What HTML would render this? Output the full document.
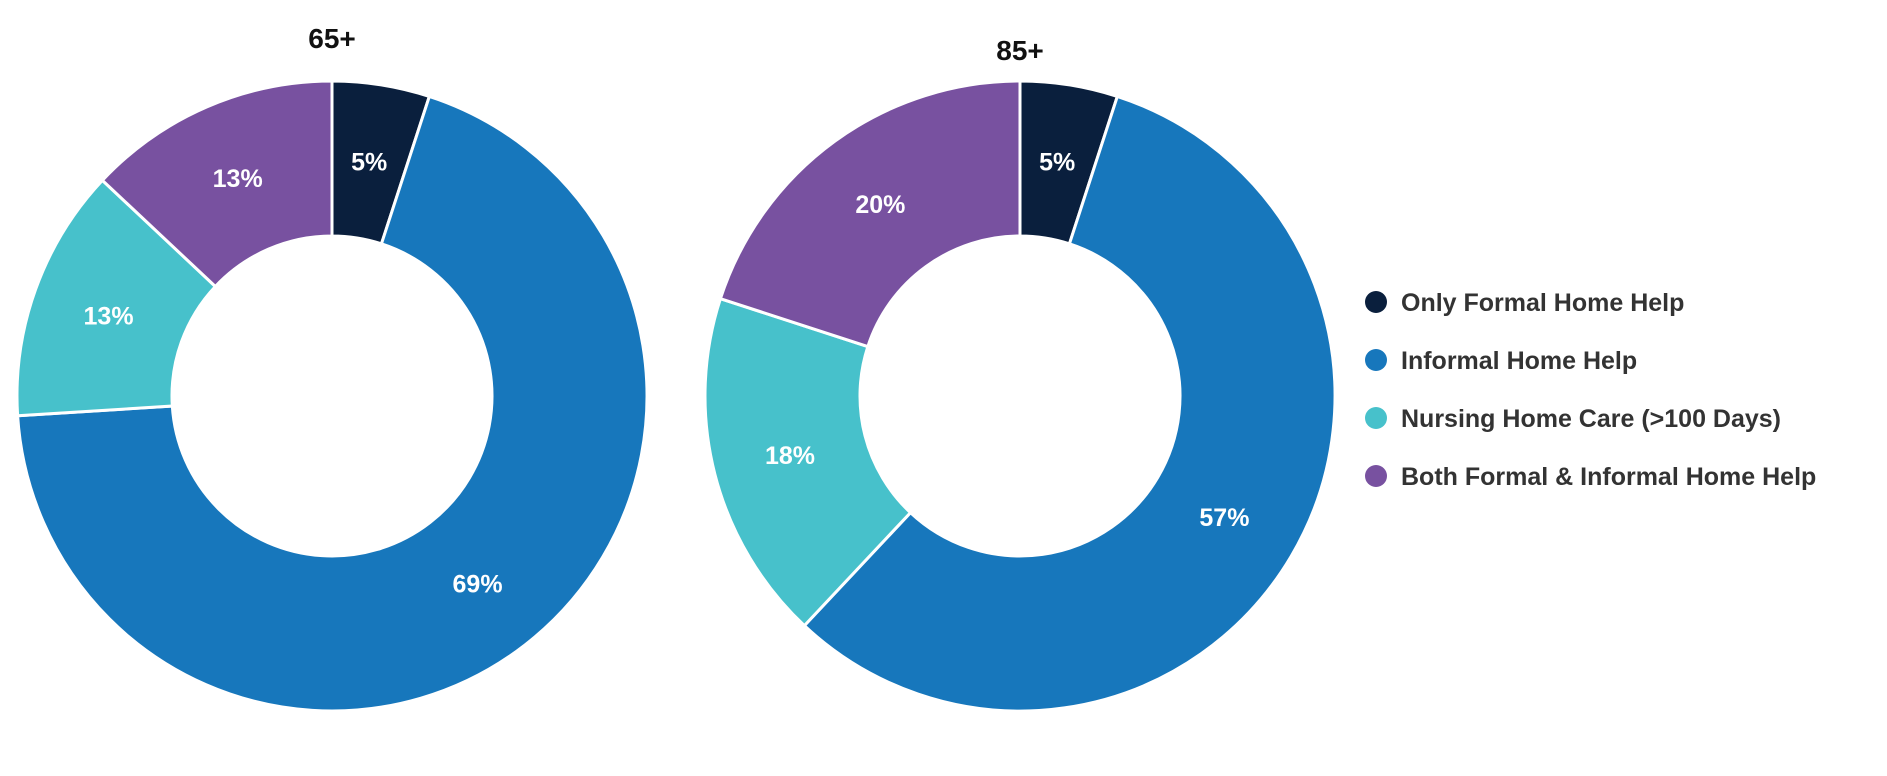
<!DOCTYPE html>
<html><head><meta charset="utf-8"><style>
html,body{margin:0;padding:0;background:#fff;}
svg{display:block;font-family:"Liberation Sans",sans-serif;}
</style></head><body>
<svg id="chart" width="1887" height="776" viewBox="0 0 1887 776">
<text x="332" y="48" text-anchor="middle" font-size="28" font-weight="bold" fill="#111">65+</text>
<text x="1020" y="60" text-anchor="middle" font-size="28" font-weight="bold" fill="#111">85+</text>
<g id="d1"></g>
<g id="d2"></g>
<g id="legend"></g>
</svg>
<script>
const categories = ["Only Formal Home Help","Informal Home Help","Nursing Home Care (>100 Days)","Both Formal & Informal Home Help"];
const values65 = [5, 69, 13, 13];
const values85 = [5, 57, 18, 20];
const colors = ["#0a1f3d","#1777bc","#47c1cb","#7851a0"];
const NS = "http://www.w3.org/2000/svg";
const rOut = 315, rIn = 160;
function pt(cx, cy, r, a){ return [cx + r*Math.sin(a), cy - r*Math.cos(a)]; }
function drawDonut(g, cx, cy, vals, tag){
  const total = vals.reduce((a,b)=>a+b,0);
  let start = 0;
  vals.forEach((v,i)=>{
    const a0 = start/total*2*Math.PI, a1 = (start+v)/total*2*Math.PI;
    const large = (a1-a0) > Math.PI ? 1 : 0;
    const p0 = pt(cx,cy,rOut,a0), p1 = pt(cx,cy,rOut,a1), q1 = pt(cx,cy,rIn,a1), q0 = pt(cx,cy,rIn,a0);
    const path = document.createElementNS(NS,"path");
    path.setAttribute("d", `M${p0[0]},${p0[1]} A${rOut},${rOut} 0 ${large} 1 ${p1[0]},${p1[1]} L${q1[0]},${q1[1]} A${rIn},${rIn} 0 ${large} 0 ${q0[0]},${q0[1]} Z`);
    path.setAttribute("fill", colors[i]);
    path.setAttribute("stroke", "#fff");
    path.setAttribute("stroke-width", "3");
    
    
    g.appendChild(path);
    const am = (a0+a1)/2, lp = pt(cx,cy,(rOut+rIn)/2,am);
    const t = document.createElementNS(NS,"text");
    t.setAttribute("x", lp[0]); t.setAttribute("y", lp[1]+9);
    t.setAttribute("text-anchor","middle");
    t.setAttribute("font-size","25"); t.setAttribute("font-weight","bold"); t.setAttribute("fill","#fff");
    t.textContent = v + "%";
    
    
    g.appendChild(t);
    start += v;
  });
}
drawDonut(document.getElementById("d1"), 332, 396, values65, "65");
drawDonut(document.getElementById("d2"), 1020, 396, values85, "85");
const lg = document.getElementById("legend");
categories.forEach((c,i)=>{
  const y = 302 + i*58;
  const dot = document.createElementNS(NS,"circle");
  dot.setAttribute("cx",1376); dot.setAttribute("cy",y); dot.setAttribute("r",11);
  dot.setAttribute("fill",colors[i]);
  
  
  lg.appendChild(dot);
  const t = document.createElementNS(NS,"text");
  t.setAttribute("x",1401); t.setAttribute("y",y+9);
  t.setAttribute("font-size","25"); t.setAttribute("font-weight","bold"); t.setAttribute("fill","#333");
  t.textContent = c;
  
  
  lg.appendChild(t);
});
</script>
</body></html>
